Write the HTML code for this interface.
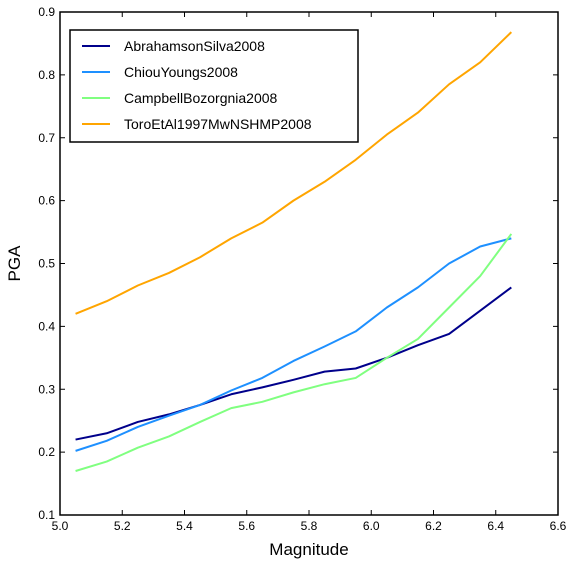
<!DOCTYPE html>
<html><head><meta charset="utf-8"><style>
body{margin:0;background:#fff;}
svg{display:block;font-family:"Liberation Sans",sans-serif;}
</style></head><body>
<svg id="c" width="576" height="562" viewBox="0 0 576 562"></svg>
<script>
const xs=[5.05,5.15,5.25,5.35,5.45,5.55,5.65,5.75,5.85,5.95,6.05,6.15,6.25,6.35,6.45];
const seriesNames=["AbrahamsonSilva2008","ChiouYoungs2008","CampbellBozorgnia2008","ToroEtAl1997MwNSHMP2008"];
const abrahamson=[0.22,0.23,0.248,0.26,0.275,0.292,0.303,0.315,0.328,0.333,0.35,0.37,0.388,0.425,0.462];
const chiou=[0.202,0.218,0.24,0.258,0.275,0.298,0.318,0.345,0.368,0.392,0.43,0.462,0.50,0.527,0.54];
const campbell=[0.17,0.185,0.207,0.225,0.248,0.27,0.28,0.295,0.308,0.318,0.35,0.38,0.43,0.48,0.547];
const toro=[0.42,0.44,0.465,0.485,0.51,0.54,0.565,0.60,0.63,0.665,0.705,0.74,0.785,0.82,0.868];
const xTicks=[5.0,5.2,5.4,5.6,5.8,6.0,6.2,6.4,6.6];
const yTicks=[0.1,0.2,0.3,0.4,0.5,0.6,0.7,0.8,0.9];
const colors=["#00008b","#1e90ff","#80ff80","#ffa500"];
const L=60,R=558,T=12,B=515;
const X=v=>L+(v-5.0)/(1.6)*(R-L);
const Y=v=>B-(v-0.1)/0.8*(B-T);
const svg=document.getElementById('c');
const NS="http://www.w3.org/2000/svg";
function mk(t,a,p){const e=document.createElementNS(NS,t);for(const k in a)e.setAttribute(k,a[k]);(p||svg).appendChild(e);return e;}
const frame=mk('rect',{x:L,y:T,width:R-L,height:B-T,fill:'none',stroke:'#000','stroke-width':1.5});


xTicks.forEach(v=>{
  const t=mk('text',{x:X(v),y:B+15,'text-anchor':'middle','font-size':12});
  t.textContent=v.toFixed(1);
  
  
  const a=mk('line',{x1:X(v),x2:X(v),y1:B,y2:B-5,stroke:'#000'});
  
  
  const b=mk('line',{x1:X(v),x2:X(v),y1:T,y2:T+5,stroke:'#000'});
  
  
});
yTicks.forEach(v=>{
  const t=mk('text',{x:L-5,y:Y(v)+4,'text-anchor':'end','font-size':12});
  t.textContent=v.toFixed(1);
  
  
  const a=mk('line',{x1:L,x2:L+5,y1:Y(v),y2:Y(v),stroke:'#000'});
  
  
  const b=mk('line',{x1:R,x2:R-5,y1:Y(v),y2:Y(v),stroke:'#000'});
  
  
});
const xt=mk('text',{x:(L+R)/2,y:555,'text-anchor':'middle','font-size':17});
xt.textContent="Magnitude";


const yt=mk('text',{x:20,y:(T+B)/2,'text-anchor':'middle','font-size':17,transform:`rotate(-90 20 ${(T+B)/2})`});
yt.textContent="PGA";


[abrahamson,chiou,campbell,toro].forEach((s,i)=>{
  const p=mk('polyline',{points:s.map((v,j)=>X(xs[j])+','+Y(v)).join(' '),fill:'none',stroke:colors[i],'stroke-width':2,'stroke-linejoin':'round'});
  
  
});
const lg=mk('rect',{x:70,y:30,width:288,height:112,fill:'#fff',stroke:'#000','stroke-width':1.5});


seriesNames.forEach((n,i)=>{
  const y=46+i*26;
  const l=mk('line',{x1:82,x2:110,y1:y,y2:y,stroke:colors[i],'stroke-width':2});
  
  
  const t=mk('text',{x:124,y:y+5,'font-size':14});
  t.textContent=n;
  
  
});
</script>
</body></html>
